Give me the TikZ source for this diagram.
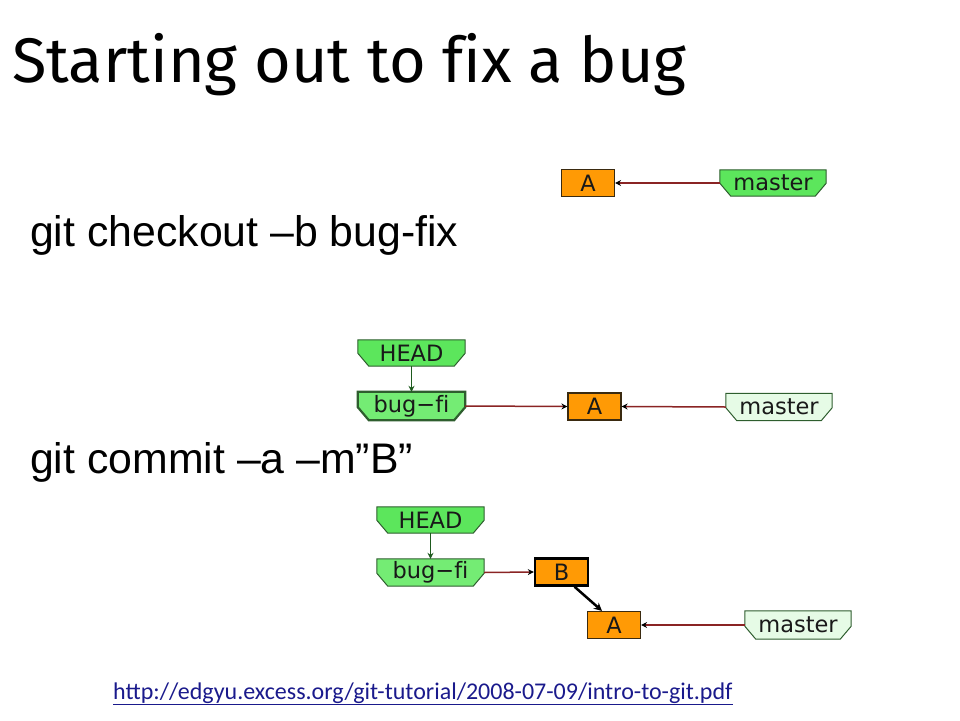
\documentclass[tikz,border=0pt]{standalone}
\usepackage{fontspec}
\setmainfont{Liberation Sans}
\newfontfamily\titlefont[Ligatures=NoCommon]{Fira Sans}
\newfontfamily\gitkfont[Ligatures=NoCommon]{DejaVu Sans}
\newfontfamily\urlfont{Carlito}
\usetikzlibrary{arrows.meta,backgrounds}
\definecolor{commitfill}{HTML}{FF9A05}
\definecolor{commitborder}{HTML}{3A2A10}
\definecolor{headfill}{HTML}{5CE65C}
\definecolor{curfill}{HTML}{74EC74}
\definecolor{otherfill}{HTML}{E6FBE6}
\definecolor{brborder}{HTML}{2E5E2E}
\definecolor{reflinecol}{HTML}{8A2424}
\definecolor{headlinecol}{HTML}{1E5A1E}
\definecolor{urlcol}{HTML}{1A1A8C}
\newcommand\brshape[3]{%
  \begin{scope}[on background layer]
    \draw[line width=#3, draw=brborder, fill=#2, line join=miter]
      (#1.north west) -- (#1.north east) -- ([yshift=13pt]#1.south east)
      -- ([xshift=-11pt]#1.south east) -- ([xshift=11pt]#1.south west)
      -- ([yshift=13pt]#1.south west) -- cycle;
  \end{scope}}
\begin{document}
\begin{tikzpicture}[x=1pt,y=-1pt,
  gitk/.style={inner sep=0pt, font=\gitkfont\fontsize{22.5}{24}\selectfont, text=black!90},
  branch/.style={gitk, minimum width=107pt, minimum height=27pt},
  commit/.style={gitk, draw=commitborder, line width=1.2pt, fill=commitfill, minimum width=53pt, minimum height=27pt},
  curcommit/.style={commit, draw=black, line width=2.4pt},
  cmdtext/.style={anchor=base west, inner sep=0pt, font=\fontsize{42.8}{46}\selectfont},
  refline/.style={draw=reflinecol, line width=1.5pt, -{Stealth[black,length=6pt,width=6pt]}},
  headline/.style={draw=headlinecol, line width=1.5pt, -{Stealth[headlinecol,length=6pt,width=6pt]}},
  commitline/.style={draw=black, line width=2.5pt, -{Stealth[black,length=8pt,width=8pt]}}
]
\path[use as bounding box] (0,0) rectangle (960,720);

% title
\node[anchor=base west, inner sep=0pt] (title) at (12,82)
  {\titlefont\fontsize{63}{66}\selectfont Starting out to fix a bug};

% commands
\node[cmdtext] (cmd1) at (30,246) {git checkout –b bug-fix};
\node[cmdtext] (cmd2) at (30,473) {git commit –a –m”B”};

% diagram 1
\node[commit] (A1) at (588,183) {A};
\node[branch, minimum width=106pt, minimum height=26pt] (master1) at (773,183) {master};
\brshape{master1}{headfill}{1pt}
\draw[refline] (master1.west) -- (A1.east);

% diagram 2
\node[branch, minimum height=26pt] (head2) at (411.5,353) {HEAD};
\brshape{head2}{headfill}{1pt}
\node[branch, minimum height=28pt] (bug2) at (411.5,406) {bug−fi};
\brshape{bug2}{curfill}{2.2pt}
\node[commit] (A2) at (594.5,406.5) {A};
\node[branch, minimum width=106pt] (master2) at (779,407) {master};
\brshape{master2}{otherfill}{1pt}
\draw[headline] (head2.south) -- (bug2.north);
\draw[refline] (bug2.east) -- (A2.west);
\draw[refline] (master2.west) -- (A2.east);

% diagram 3
\node[branch, minimum height=26pt] (head3) at (430.5,520) {HEAD};
\brshape{head3}{headfill}{1pt}
\node[branch] (bug3) at (430.5,572.5) {bug−fi};
\brshape{bug3}{curfill}{1pt}
\node[curcommit] (B3) at (561.5,572) {B};
\node[commit] (A3) at (614,625) {A};
\node[branch, minimum width=106pt, minimum height=28pt] (master3) at (798,625) {master};
\brshape{master3}{otherfill}{1pt}
\draw[headline] (head3.south) -- (bug3.north);
\draw[refline] (bug3.east) -- (B3.west);
\draw[commitline] ([xshift=13pt]B3.south) -- ([xshift=-12pt]A3.north);
\draw[refline] (master3.west) -- (A3.east);

% url
\node[anchor=base west, inner sep=0pt, text=urlcol] (url) at (113,699)
  {\urlfont\fontsize{24}{26}\selectfont\underline{http://edgyu.excess.org/git-tutorial/2008-07-09/intro-to-git.pdf}};
\end{tikzpicture}
\end{document}
